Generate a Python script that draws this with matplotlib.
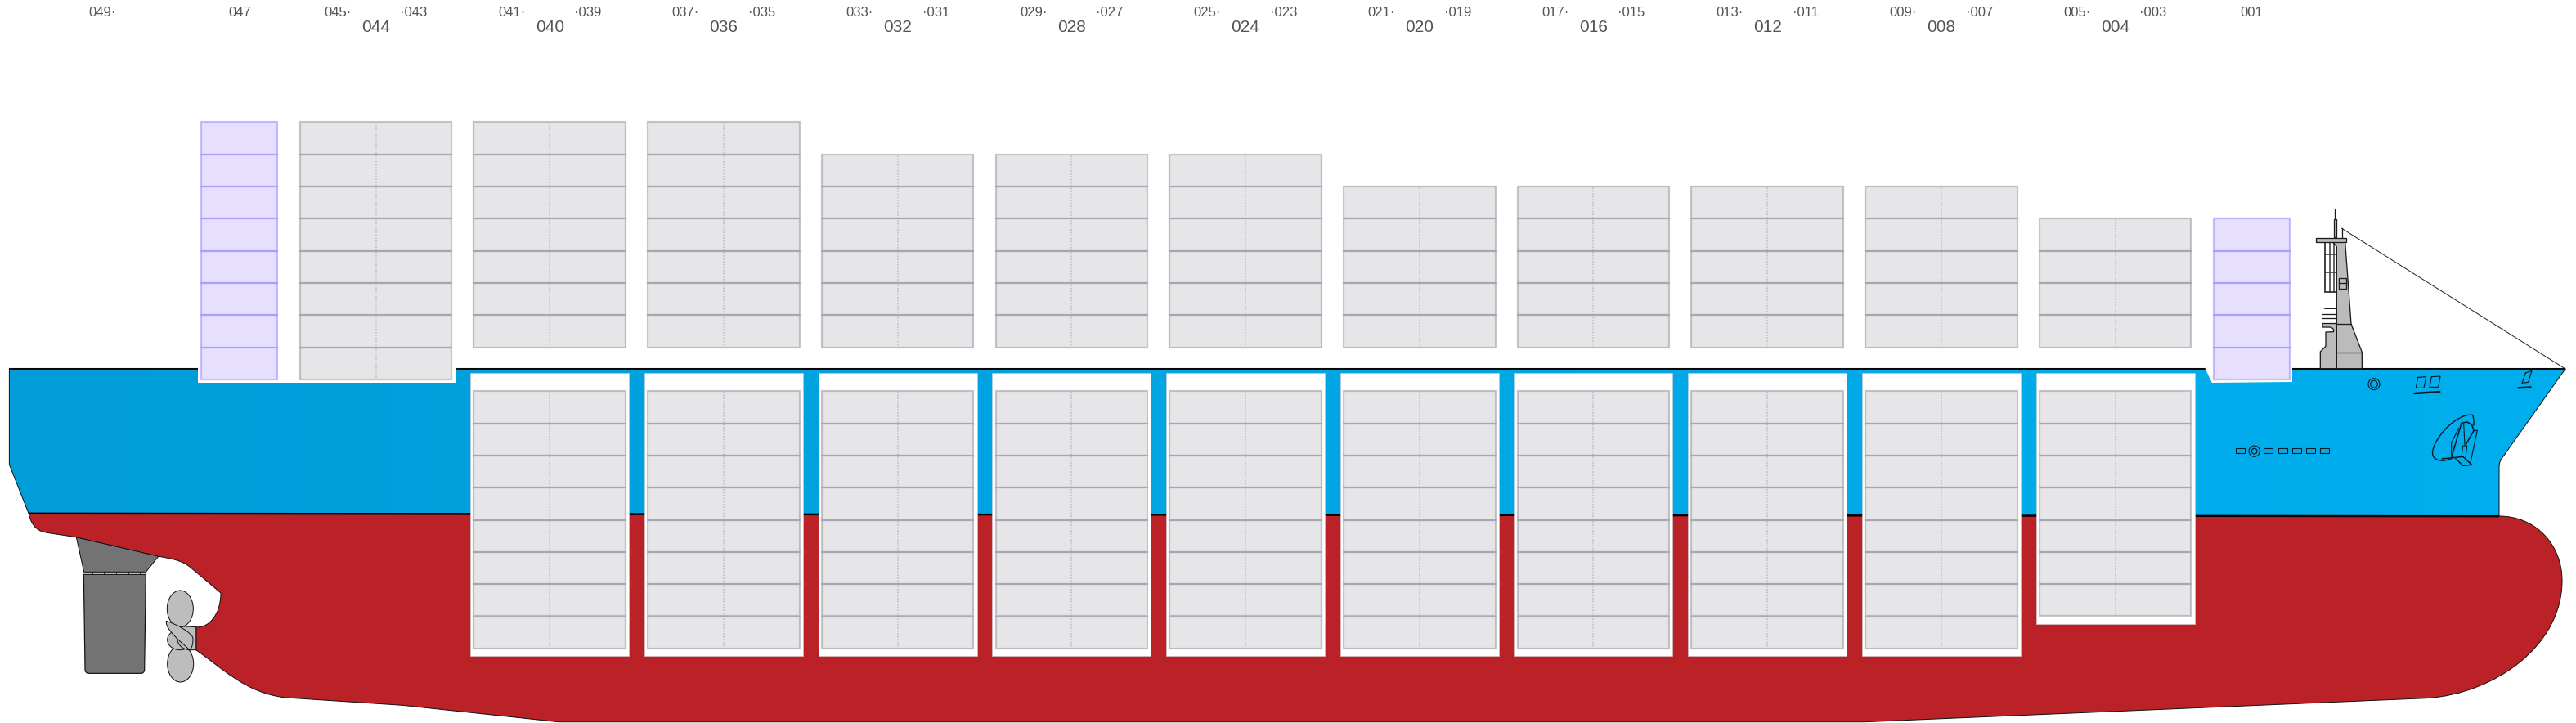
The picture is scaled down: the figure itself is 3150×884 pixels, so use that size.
import numpy as np
import matplotlib
matplotlib.use("Agg")
import matplotlib.pyplot as plt
from matplotlib.path import Path
from matplotlib.patches import PathPatch, Rectangle, Polygon, Ellipse, Circle

plt.rcParams['font.family'] = ['Liberation Sans', 'DejaVu Sans']

# ---- data -------------------------------------------------------------
bay_labels = ['044', '040', '036', '032', '028', '024', '020', '016', '012', '008', '004']
deck_tiers = [8, 7, 7, 6, 6, 6, 5, 5, 5, 5, 4]
hold_tiers = [0, 8, 8, 8, 8, 8, 8, 8, 8, 8, 7]
aft_labels = ['045·', '041·', '037·', '033·', '029·', '025·', '021·', '017·', '013·', '009·', '005·']
fwd_labels = ['·043', '·039', '·035', '·031', '·027', '·023', '·019', '·015', '·011', '·007', '·003']
single_labels = ['047', '001']
single_tiers = [8, 5]
orphan_label = '049·'

# ---- layout -----------------------------------------------------------
W, H = 3150, 884
fig = plt.figure(figsize=(W / 100, H / 100), dpi=100, facecolor='white')
ax = fig.add_axes([0, 0, 1, 1])
px = 0.72
X0, PITCH = 459.5, 212.71
ROW = 39.3
DECK_BASE = 424.5
HOLD_TOP = 478.4
centers = [X0 + PITCH * i for i in range(len(bay_labels))]
single_centers = [292.8, 2753.2]

RED = '#BB2228'
BLACK = '#111111'


def bez(*ops):
    verts, codes = [], []
    for op in ops:
        if op[0] == 'M':
            verts.append(op[1]); codes.append(Path.MOVETO)
        elif op[0] == 'L':
            for p in op[1:]:
                verts.append(p); codes.append(Path.LINETO)
        elif op[0] == 'C':
            verts += [op[1], op[2], op[3]]; codes += [Path.CURVE4] * 3
        elif op[0] == 'Z':
            verts.append((0, 0)); codes.append(Path.CLOSEPOLY)
    return Path(verts, codes)


# ---- hull -------------------------------------------------------------
blue_path = bez(('M', (11.4, 451)), ('L', (3137, 451), (3060, 559.5)),
                ('C', (3057, 563), (3056, 567), (3056, 572)),
                ('L', (3056, 631), (35, 627.5), (11.4, 568)), ('Z',))
blue_patch = PathPatch(blue_path, fc='none', ec='none', zorder=2)
ax.add_patch(blue_patch)
left, right = np.array([0, 157, 218]) / 255, np.array([0, 175, 238]) / 255
grad = np.linspace(0, 1, 256)[None, :, None] * (right - left) + left
im = ax.imshow(grad, extent=(0, W, H, 0), aspect='auto', zorder=2)
im.set_clip_path(blue_patch)
ax.add_patch(PathPatch(blue_path, fc='none', ec=BLACK, lw=1 * px, zorder=2.1))
ax.plot([11.4, 3137], [450.7, 450.7], color='#999999', lw=3.2 * px, zorder=2.05, solid_capstyle='butt')
ax.plot([11.4, 3137], [451.3, 451.3], color='black', lw=1.8 * px, zorder=2.1, solid_capstyle='butt')

red_path = bez(('M', (35, 627.5)), ('L', (3056, 631)),
               ('C', (3100, 631), (3133, 665), (3133, 710)),
               ('C', (3133, 790), (3050, 848), (2968.5, 853.6)),
               ('L', (2280, 882.7), (683, 882.7), (492, 862.3), (350, 853)),
               ('C', (300, 848), (270, 815), (240, 795)),
               ('L', (240, 766.7)),
               ('C', (255, 768), (270, 752), (270, 725)),
               ('L', (234.5, 695)),
               ('C', (222, 684), (208, 683), (193, 680)),
               ('L', (93, 656.7), (60, 651.7)),
               ('C', (47, 650), (39, 645), (35, 627.5)), ('Z',))
ax.add_patch(PathPatch(red_path, fc=RED, ec=BLACK, lw=1 * px, zorder=3))
ax.plot([35, 3056], [627.8, 631.2], color='black', lw=2.4 * px, zorder=3.1, solid_capstyle='butt')

# notches cut in the deck line
ax.add_patch(Rectangle((242, 445), 314.7, 23, fc='white', ec='none', zorder=4))
ax.add_patch(Polygon([(2696.7, 445), (2696.7, 451), (2704.8, 468), (2803, 467), (2803, 445)],
                     fc='white', ec='none', zorder=4))


# ---- container stacks -------------------------------------------------
def stack(cx, half, top, n, face, edge, split):
    for k in range(n):
        y = top + k * ROW
        ax.add_patch(Rectangle((cx - half, y), 2 * half, ROW, fc=face, ec='none', zorder=6))
    for k in range(n):
        y = top + k * ROW
        ax.add_patch(Rectangle((cx - half, y), 2 * half, ROW, fc='none', ec=edge,
                               lw=2.2 * px, zorder=7))
    if split:
        ax.plot([cx, cx], [top + 1, top + n * ROW - 1], color='#C4C3CA', lw=1.8 * px,
                ls=(0, (1, 1)), zorder=6.5)


GREY_EDGE = (0.60, 0.59, 0.64, 0.54)
PURPLE_EDGE = (0.63, 0.55, 1.0, 0.57)
for cx, nd, nh in zip(centers, deck_tiers, hold_tiers):
    stack(cx, 92.8, DECK_BASE + ROW * (1 if nd == 8 else 0) - nd * ROW, nd, '#E6E6E8', GREY_EDGE, True)
    if nh:
        bottom = HOLD_TOP + nh * ROW + 9.5
        ax.add_patch(Rectangle((cx - 97, 456), 194, bottom - 456, fc='white',
                               ec=(0.8, 0.8, 0.82, 0.7), lw=0.8 * px, zorder=5))
        stack(cx, 92.8, HOLD_TOP, nh, '#E6E6E8', GREY_EDGE, True)
for cx, n, base in zip(single_centers, single_tiers, [DECK_BASE + ROW, DECK_BASE + ROW]):
    stack(cx, 46.5, base - n * ROW, n, '#E6E0FE', PURPLE_EDGE, False)

# ---- labels -----------------------------------------------------------
TXT = '#555555'
SMALL, LARGE = 12, 15
YS, YL = 15.5, 33.5
for cx, a, f, b in zip(centers, aft_labels, fwd_labels, bay_labels):
    ax.text(cx - 46.5, YS, a, ha='center', va='center', fontsize=SMALL, color=TXT)
    ax.text(cx + 46.5, YS, f, ha='center', va='center', fontsize=SMALL, color=TXT)
    ax.text(cx, YL, b, ha='center', va='center', fontsize=LARGE, color=TXT)
ax.text(125.5, YS, orphan_label, ha='center', va='center', fontsize=SMALL, color=TXT)
for cx, s in zip(single_centers, single_labels):
    ax.text(cx, YS, s, ha='center', va='center', fontsize=SMALL, color=TXT)

# ---- rudder and propeller ---------------------------------------------
z6 = lambda X, Y: (60 + X / 3, 620 + Y / 3)
DG, LG = '#737373', '#BDBDBD'
ax.add_patch(Polygon([z6(100, 110), z6(402, 180), z6(355, 238), z6(128, 238)], fc=DG, ec=BLACK,
                     lw=1 * px, zorder=2.5))
for X in (158, 201, 245, 290, 332):
    ax.plot(*zip(z6(X, 238), z6(X, 247)), color=BLACK, lw=0.8 * px, zorder=2.5)
ax.add_patch(PathPatch(bez(('M', z6(127, 247)), ('L', z6(355, 247), z6(350, 595)),
                           ('C', z6(350, 605), z6(345, 610), z6(338, 610)),
                           ('L', z6(145, 610)),
                           ('C', z6(138, 610), z6(132, 605), z6(132, 595)), ('Z',)),
                       fc=DG, ec=BLACK, lw=1.2 * px, zorder=2.5))
for box in [(481, 373, 96, 134), (482, 575, 96, 134), (480, 487, 92, 74)]:
    ax.add_patch(Ellipse(z6(box[0], box[1]), box[2] / 3, box[3] / 3, fc=LG, ec=BLACK, lw=1 * px, zorder=2.6))
ax.add_patch(PathPatch(bez(('M', z6(540, 440)), ('L', z6(500, 438)), ('C', z6(480, 438), z6(470, 445), z6(470, 480)),
                           ('C', z6(470, 505), z6(490, 524), z6(520, 524)), ('L', z6(540, 524)), ('Z',)),
                       fc=LG, ec=BLACK, lw=1 * px, zorder=2.7))
ax.add_patch(PathPatch(bez(('M', z6(430, 418)), ('C', z6(470, 430), z6(520, 460), z6(527, 478)),
                           ('C', z6(530, 495), z6(525, 515), z6(517, 525)),
                           ('C', z6(490, 500), z6(425, 450), z6(430, 418)), ('Z',)),
                       fc=LG, ec=BLACK, lw=1 * px, zorder=2.8))

# ---- foremast ---------------------------------------------------------
z4 = lambda X, Y: (2780 + X / 3, 240 + Y / 3)
MG = '#BBBBBB'
ML = '#1c1c1c'
lw_m = 1.3 * px
ax.plot([3137, z4(251, 118)[0]], [451, z4(251, 118)[1]], color='#222222', lw=1 * px, zorder=2)
ax.plot(*zip(z4(251, 118), z4(251, 152)), color=ML, lw=lw_m, zorder=2)
ax.plot(*zip(z4(226, 48), z4(226, 85)), color=ML, lw=lw_m, zorder=2)
# ladder
ax.add_patch(Polygon([z4(188, 168), z4(232, 168), z4(232, 350), z4(188, 350)], fc='white', ec='#333333',
                     lw=1.8 * px, zorder=2))
for X in (207, 222):
    ax.plot(*zip(z4(X, 168), z4(X, 350)), color='#333333', lw=1.5 * px, zorder=2)
for Y in (212, 280):
    ax.plot(*zip(z4(188, Y), z4(232, Y)), color='#333333', lw=1.5 * px, zorder=2)
# mast body
ax.add_patch(Polygon([z4(263, 168), z4(285, 468), z4(325, 572), z4(325, 632), z4(232, 632), z4(232, 185), z4(218, 168)],
                     fc=MG, ec=ML, lw=lw_m, zorder=2.2))
# stripes and forward house
ax.add_patch(PathPatch(bez(('M', z4(232, 632)), ('L', z4(172, 632), z4(172, 570), z4(192, 550), z4(192, 498)),
                           ('L', z4(220, 497)), ('C', z4(225, 488), z4(215, 480), z4(205, 480)),
                           ('L', z4(180, 480), z4(180, 425)), ('C', z4(180, 418), z4(185, 413), z4(192, 413)),
                           ('L', z4(232, 413)), ('Z',)),
                       fc=MG, ec=ML, lw=lw_m, zorder=2.1))
ax.add_patch(Rectangle(z4(181, 414), 51 / 3, 50 / 3, fc='white', ec='none', zorder=2.15))
for Y in (432, 448, 466):
    ax.plot(*zip(z4(180, Y), z4(232, Y)), color=ML, lw=lw_m, zorder=2.3)
ax.plot(*zip(z4(232, 467), z4(285, 467)), color=ML, lw=lw_m, zorder=2.3)
ax.plot(*zip(z4(232, 574), z4(325, 574)), color=ML, lw=lw_m, zorder=2.3)
ax.add_patch(Rectangle(z4(240, 300), 27 / 3, 38 / 3, fc=MG, ec=ML, lw=lw_m, zorder=2.3))
ax.plot(*zip(z4(240, 318), z4(267, 318)), color=ML, lw=lw_m, zorder=2.3)
ax.add_patch(Rectangle(z4(221, 85), 11 / 3, 65 / 3, fc=MG, ec=ML, lw=lw_m, zorder=2.3))
ax.add_patch(Rectangle(z4(155, 152), 113 / 3, 16 / 3, fc=MG, ec=ML, lw=lw_m, zorder=2.4))

# ---- bow details ------------------------------------------------------
z5 = lambda X, Y: (2700 + X / 3, 440 + Y / 3)
D = '#0a1a24'
d_lw = 1.1 * px


def outline(pts, closed=False, lw=d_lw):
    pts = [z5(*p) for p in pts]
    if closed:
        pts.append(pts[0])
    ax.plot(*zip(*pts), color=D, lw=lw, zorder=2.3, solid_joinstyle='round', solid_capstyle='round')


def circ(X, Y, r, lw=d_lw):
    ax.add_patch(Circle(z5(X, Y), r / 3, fc='none', ec=D, lw=lw, zorder=2.3))


circ(609, 89, 21, 1.1 * px); circ(609, 89, 13, 1.1 * px)
circ(170, 335, 20, 1.1 * px); circ(170, 335, 10, 1.2 * px)
for x0, x1 in [(103, 134), (205, 238), (257, 290), (308, 341), (360, 392), (411, 443)]:
    outline([(x0, 325), (x1, 325), (x1, 342), (x0, 342)], True, 1.1 * px)
outline([(770, 64), (800, 62), (792, 103), (763, 103)], True)
outline([(820, 62), (852, 60), (845, 100), (813, 100)], True)
outline([(757, 123), (850, 117)], lw=2.4 * px)
outline([(1165, 48), (1188, 40), (1175, 82), (1152, 85)], True)
outline([(1138, 103), (1184, 100)], lw=2.4 * px)
# anchor
t = np.linspace(0, 1, 40)
ctrl = [((900, 358), (860, 380), (815, 370), (825, 330)),
        ((825, 330), (840, 270), (920, 195), (970, 202)),
        ((970, 202), (975, 210), (975, 225), (975, 240))]
anchor_pts = []
for a, b, c, e in ctrl:
    a, b, c, e = map(np.array, (a, b, c, e))
    seg = ((1 - t) ** 3)[:, None] * a + (3 * (1 - t) ** 2 * t)[:, None] * b + (3 * (1 - t) * t ** 2)[:, None] * c + (t ** 3)[:, None] * e
    anchor_pts += [tuple(p) for p in seg]
outline(anchor_pts, lw=1.4 * px)
outline([(930, 232), (893, 358)], lw=1.6 * px)
outline([(930, 232), (950, 228), (968, 238), (975, 260), (945, 312)], lw=1.6 * px)
outline([(975, 260), (988, 258), (962, 382)])
outline([(938, 235), (942, 312)])
outline([(920, 250), (893, 305), (893, 358)])
outline([(858, 363), (935, 355), (968, 385), (935, 388), (908, 362)], lw=1.5 * px)
outline([(930, 355), (935, 315), (950, 315), (945, 362)])

ax.set_xlim(0, W)
ax.set_ylim(H, 0)
ax.axis('off')
fig.savefig('out.png', dpi=100, facecolor='white')
